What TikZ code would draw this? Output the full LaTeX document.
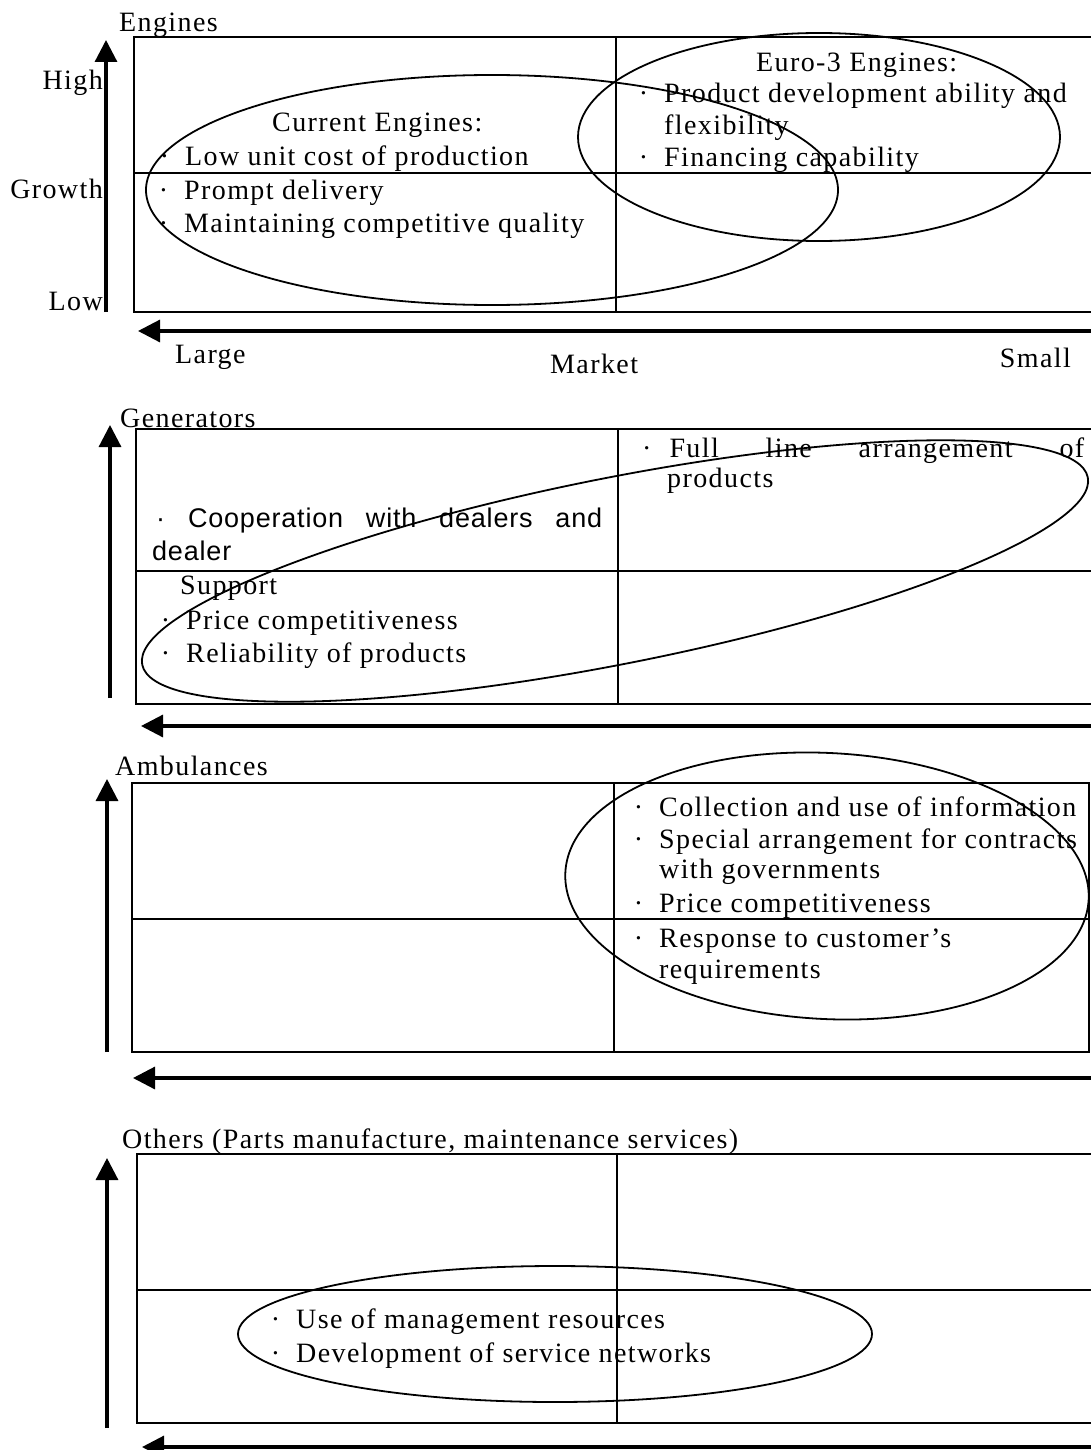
\documentclass[tikz,border=0pt]{standalone}
\usepackage{fontspec}
\setmainfont{Liberation Serif}[LetterSpace=5]
\newfontfamily\gensans{Liberation Sans}[LetterSpace=3]
\usepackage{tikz}
\usetikzlibrary{arrows.meta, positioning, calc}

\newcommand{\dotmark}{\llap{·\hspace{16pt}}}

\tikzset{
    txt/.style={inner sep=0pt, anchor=base west, font=\fontsize{28}{34}\selectfont},
    sanstxt/.style={txt, font=\gensans\fontsize{27}{34}\selectfont},
    bx/.style={line width=1.8pt},
    oval/.style={line width=1.8pt},
    axis/.style={line width=3.2pt, -{Triangle[length=22pt, width=22pt]}},
}

\begin{document}
\begin{tikzpicture}[x=1pt, y=-1pt]
    \useasboundingbox (0,0) rectangle (1091,1450);

    % Engines
    \node[txt] (engT) at (119,32) {Engines};
    \draw[bx] (1091,37) -- (134,37) -- (134,312) -- (1091,312);
    \draw[bx] (134,173) -- (1091,173);
    \draw[bx] (616,37) -- (616,312);
    \draw[axis] (106,312) -- (106,40);
    \draw[axis] (1091,331) -- (138,331);
    \node[txt, anchor=base east] (high) at (103,90) {High};
    \node[txt, anchor=base east] (growth) at (103,199) {Growth};
    \node[txt, anchor=base east] (low) at (103,310) {Low};
    \node[txt] (large) at (175,363) {Large};
    \node[txt] (market) at (550,373) {Market};
    \node[txt, anchor=base east] (small) at (1071,367) {Small};

    \node[txt] (curH) at (272,132) {Current Engines:};
    \node[txt] (cur1) at (185,166) {\dotmark Low unit cost of production};
    \node[txt] (cur2) at (184,200) {\dotmark Prompt delivery};
    \node[txt] (cur3) at (184,233) {\dotmark Maintaining competitive quality};
    \draw[oval] (492,190) ellipse [x radius=346, y radius=115];

    \node[txt] (euroH) at (756,72) {Euro-3 Engines:};
    \node[txt] (euro1) at (664,103) {\dotmark Product development ability and};
    \node[txt] (euro2) at (664,135) {flexibility};
    \node[txt] (euro3) at (664,167) {\dotmark Financing capability};
    \draw[oval] (819,137) ellipse [x radius=241, y radius=104];

    % Generators
    \node[txt] (genT) at (120,427) {Generators};
    \draw[bx] (1091,429) -- (136,429) -- (136,704) -- (1091,704);
    \draw[bx] (136,571) -- (1091,571);
    \draw[bx] (618,429) -- (618,704);
    \draw[axis] (110,698) -- (110,425);
    \draw[axis] (1091,726) -- (141,726);

    \node[sanstxt] (gen1) at (156,527) {\hbox to 446pt{·\hfill Cooperation\hfill with\hfill dealers\hfill and}};
    \node[sanstxt] (gen1b) at (152,560) {dealer};
    \node[txt] (gen1c) at (180,594) {Support};
    \node[txt] (gen2) at (186,629) {\dotmark Price competitiveness};
    \node[txt] (gen3) at (186,662) {\dotmark Reliability of products};
    \node[txt] (gen4) at (642,457) {\hbox to 442pt{·\hspace{18pt}Full\hfill line\hfill arrangement\hfill of}};
    \node[txt] (gen4b) at (667,487) {products};
    \draw[oval, rotate around={11.2:(615,571)}] (615,571) ellipse [x radius=482, y radius=93];

    % Ambulances
    \node[txt] (ambT) at (115,775) {Ambulances};
    \draw[bx] (132,783) rectangle (1089,1052);
    \draw[bx] (132,919) -- (1089,919);
    \draw[bx] (614,783) -- (614,1052);
    \draw[axis] (107,1052) -- (107,779);
    \draw[axis] (1091,1078) -- (133,1078);

    \node[txt] (amb1) at (659,816) {\dotmark Collection and use of information};
    \node[txt] (amb2) at (659,848) {\dotmark Special arrangement for contracts};
    \node[txt] (amb2b) at (659,878) {with governments};
    \node[txt] (amb3) at (659,912) {\dotmark Price competitiveness};
    \node[txt] (amb4) at (659,947) {\dotmark Response to customer’s};
    \node[txt] (amb4b) at (659,978) {requirements};
    \draw[oval, rotate around={-3:(827,886)}] (827,886) ellipse [x radius=262, y radius=133];

    % Others
    \node[txt] (othT) at (122,1148) {Others (Parts manufacture, maintenance services)};
    \draw[bx] (1091,1154) -- (137,1154) -- (137,1423) -- (1091,1423);
    \draw[bx] (137,1290) -- (1091,1290);
    \draw[bx] (617,1154) -- (617,1423);
    \draw[axis] (107,1428) -- (107,1158);
    \draw[axis] (1091,1447) -- (142,1447);

    \node[txt] (oth1) at (296,1328) {\dotmark Use of management resources};
    \node[txt] (oth2) at (296,1362) {\dotmark Development of service networks};
    \draw[oval] (555,1334) ellipse [x radius=317, y radius=68];
\end{tikzpicture}
\end{document}
